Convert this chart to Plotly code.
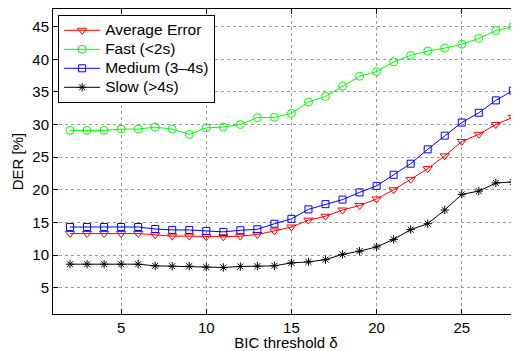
import plotly.graph_objects as go

x_vals = list(range(2, 29))

avg_error = [13.3, 13.3, 13.3, 13.3, 13.3, 13.1, 12.9, 12.9, 12.8, 12.8, 12.9, 13.15, 13.7,
             14.3, 15.35, 15.95, 16.9, 17.6, 18.6, 20.0, 21.6, 23.25, 25.2, 27.4, 28.5, 30.0, 31.1]
fast = [29.1, 29.1, 29.1, 29.3, 29.3, 29.6, 29.3, 28.5, 29.5, 29.6, 30.0, 31.05, 31.1,
        31.7, 33.45, 34.3, 35.9, 37.4, 38.1, 39.6, 40.6, 41.25, 41.7, 42.3, 43.2, 44.4, 45.0]
medium = [14.3, 14.3, 14.3, 14.3, 14.3, 14.0, 13.85, 13.85, 13.7, 13.55, 13.8, 13.95, 14.8,
          15.55, 17.0, 17.8, 18.5, 19.6, 20.6, 22.3, 24.0, 26.2, 28.3, 30.3, 31.8, 33.7, 35.2]
slow = [8.6, 8.6, 8.6, 8.6, 8.6, 8.35, 8.3, 8.3, 8.15, 8.1, 8.25, 8.3, 8.35,
        8.8, 8.95, 9.3, 10.1, 10.6, 11.25, 12.4, 13.9, 14.8, 16.9, 19.3, 19.8, 21.05, 21.2]

series_names = ["Average Error", "Fast (<2s)", "Medium (3\u20134s)", "Slow (>4s)"]
x_ticks = [5, 10, 15, 20, 25]
y_ticks = [5, 10, 15, 20, 25, 30, 35, 40, 45]

styles = [
    dict(color="#FF0000", symbol="triangle-down-open", size=8),
    dict(color="#00FF00", symbol="circle-open", size=8),
    dict(color="#0000FF", symbol="square-open", size=7),
    dict(color="#000000", symbol="asterisk-open", size=7),
]

fig = go.Figure()
for name, ys, st in zip(series_names, [avg_error, fast, medium, slow], styles):
    fig.add_trace(go.Scatter(
        x=x_vals, y=ys, mode="lines+markers",
        # legend spacing is computed from legend.font.size; text itself drawn larger
        name='<span style="font-size:15.5px">' + name.replace("<", "&lt;").replace(">", "&gt;") + "</span>",
        line=dict(color=st["color"], width=1),
        marker=dict(symbol=st["symbol"], size=st["size"], color=st["color"],
                    line=dict(color=st["color"], width=1)),
    ))

font_family = "Liberation Sans, Arial, sans-serif"
# page body has an 8px default margin, so the figure is sized to end at the window edge
fig.update_layout(
    width=511, height=343,
    margin=dict(l=45, r=0, t=1, b=37, autoexpand=False),
    paper_bgcolor="white", plot_bgcolor="white",
    font=dict(family=font_family, size=15, color="black"),
    showlegend=True,
    legend=dict(x=0.011, y=0.981, xanchor="left", yanchor="top",
                bgcolor="white", bordercolor="black", borderwidth=1,
                font=dict(size=12), tracegroupgap=0, itemwidth=36),
    xaxis=dict(range=[1, 28.36], tickvals=x_ticks, ticks="inside", ticklen=5,
               tickcolor="black", showline=True, linecolor="black", linewidth=1,
               mirror="ticks", showgrid=True, gridcolor="#9a9a9a", griddash="dot",
               gridwidth=1, zeroline=False, automargin=False, ticklabelstandoff=0,
               title=dict(text="BIC threshold \u03b4", standoff=1, font=dict(size=15)),
               tickfont=dict(size=15)),
    yaxis=dict(range=[0.97, 47.7], tickvals=y_ticks, ticks="inside", ticklen=5,
               tickcolor="black", showline=True, linecolor="black", linewidth=1,
               mirror=False, showgrid=True, gridcolor="#9a9a9a", griddash="dot",
               gridwidth=1, zeroline=False, automargin=False,
               title=dict(text="DER [%]", standoff=5, font=dict(size=15)),
               tickfont=dict(size=15)),
)

fig.write_html("out.html")
